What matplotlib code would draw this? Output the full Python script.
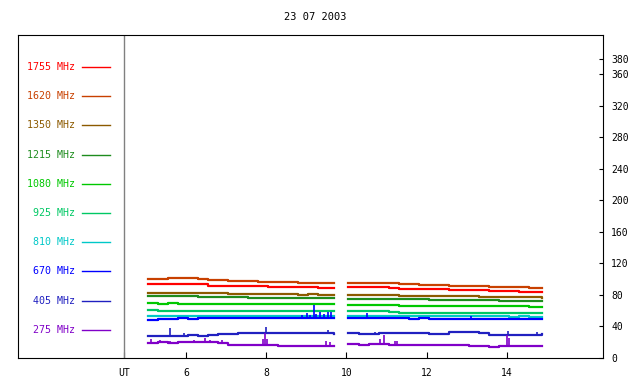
import numpy as np
import matplotlib
matplotlib.use('Agg')
import matplotlib.pyplot as plt
from matplotlib.lines import Line2D

plt.rcParams['font.family'] = 'DejaVu Sans Mono'

title = '23 07 2003'
x_ticks = [4.455, 6, 8, 10, 12, 14]
x_labels = ['UT', '6', '8', '10', '12', '14']
y_ticks = [0, 40, 80, 120, 160, 200, 240, 280, 320, 360, 380]

freqs = ['1755 MHz', '1620 MHz', '1350 MHz', '1215 MHz', '1080 MHz',
         '925 MHz', '810 MHz', '670 MHz', '405 MHz', '275 MHz']
colors = ['#ff0000', '#c84000', '#8c5a00', '#1e8c1e', '#00c800',
          '#00c864', '#00c8c8', '#0000ff', '#2020c0', '#8000c8']

# time (UT hours), two observing blocks
t_left = [5.05, 5.3, 5.55, 5.8, 6.05, 6.3, 6.55, 6.8, 7.05, 7.3,
          7.55, 7.8, 8.05, 8.3, 8.55, 8.8, 9.05, 9.3, 9.55, 9.7]
t_right = [10.05, 10.3, 10.55, 10.8, 11.05, 11.3, 11.55, 11.8, 12.05, 12.3,
           12.55, 12.8, 13.05, 13.3, 13.55, 13.8, 14.05, 14.3, 14.55, 14.88]

f1755_l = [93.5, 93.8, 94.2, 94.4, 94.2, 93.8, 92.0, 91.4, 91.5, 91.3,
           91.2, 90.8, 90.3, 90.2, 90.0, 89.8, 89.6, 89.4, 89.3, 89.3]
f1755_r = [90.4, 90.2, 90.3, 90.0, 88.4, 88.0, 87.8, 87.6, 87.4, 87.2,
           86.9, 86.5, 86.1, 85.8, 85.4, 85.0, 84.7, 84.4, 84.0, 83.8]
f1620_l = [100.3, 100.8, 101.2, 101.6, 101.4, 100.2, 98.8, 98.5, 97.9, 97.6,
           97.2, 96.9, 96.6, 96.2, 95.9, 95.4, 95.2, 95.0, 95.4, 95.4]
f1620_r = [95.3, 95.7, 95.8, 95.6, 94.6, 93.8, 93.5, 93.2, 92.8, 92.4,
           92.0, 91.6, 91.2, 90.9, 90.6, 90.2, 89.8, 89.5, 89.1, 88.9]
f1350_l = [82.6, 82.4, 82.8, 82.5, 82.7, 82.4, 82.2, 81.9, 81.8, 81.6,
           81.3, 81.0, 80.9, 80.8, 80.9, 80.6, 80.7, 80.5, 80.6, 80.6]
f1350_r = [80.0, 79.7, 79.6, 79.7, 79.4, 79.3, 79.1, 79.0, 78.9, 78.7,
           78.6, 78.4, 78.2, 78.0, 77.7, 77.5, 77.2, 77.0, 76.8, 76.6]
f1215_l = [78.8, 78.6, 78.7, 78.4, 78.3, 78.0, 77.6, 77.3, 77.0, 76.8,
           76.7, 76.6, 76.7, 76.5, 76.4, 76.5, 76.3, 76.4, 76.2, 76.2]
f1215_r = [75.4, 75.2, 75.3, 75.0, 74.8, 74.6, 74.5, 74.3, 74.1, 74.0,
           73.9, 73.7, 73.5, 73.3, 73.1, 72.9, 72.7, 72.5, 72.2, 72.0]
f1080_l = [69.4, 69.0, 69.2, 69.0, 68.8, 69.1, 68.9, 68.7, 68.6, 68.8,
           68.5, 68.6, 68.4, 68.6, 68.3, 68.4, 68.2, 68.3, 68.1, 68.1]
f1080_r = [67.8, 67.6, 67.8, 67.6, 66.7, 66.5, 66.4, 66.5, 66.3, 66.4,
           66.2, 66.1, 66.0, 65.9, 65.8, 65.7, 65.6, 65.4, 65.3, 65.2]
f925_l = [60.4, 60.1, 60.2, 60.0, 60.1, 59.9, 60.0, 59.8, 59.7, 59.8,
          59.6, 59.7, 59.5, 59.6, 59.4, 59.5, 59.3, 59.4, 59.3, 59.3]
f925_r = [59.9, 60.0, 59.8, 59.9, 58.0, 57.6, 57.5, 57.6, 57.4, 57.5,
          57.4, 57.3, 57.4, 57.2, 57.3, 57.1, 57.2, 57.0, 57.1, 57.0]
f810_l = [53.6, 53.8, 53.7, 53.6, 53.7, 53.5, 53.6, 53.4, 53.5, 53.4,
          53.5, 53.3, 53.4, 53.3, 53.4, 53.2, 53.3, 53.4, 53.3, 53.3]
f810_r = [53.4, 53.3, 53.4, 53.2, 53.3, 53.1, 53.2, 53.0, 53.1, 53.0,
          52.9, 53.0, 52.8, 52.9, 52.7, 52.8, 52.6, 52.7, 52.5, 52.5]
f670_l = [48.6, 49.6, 50.0, 50.2, 50.1, 50.3, 50.2, 50.4, 50.5, 50.6,
          50.7, 50.8, 50.9, 51.0, 51.0, 50.8, 51.2, 51.0, 51.3, 51.3]
f670_r = [50.2, 50.3, 50.4, 50.3, 50.2, 50.3, 50.1, 50.2, 50.0, 50.1,
          49.9, 50.0, 49.8, 49.9, 49.6, 49.8, 49.7, 49.6, 49.5, 49.5]
f405_l = [27.8, 28.2, 28.5, 28.4, 28.6, 28.5, 29.6, 30.4, 30.8, 31.2,
          31.3, 31.5, 31.7, 31.8, 31.6, 31.7, 31.8, 31.6, 31.2, 30.6]
f405_r = [31.3, 30.2, 30.1, 31.5, 32.0, 32.1, 32.0, 31.9, 30.4, 30.3,
          32.4, 32.7, 32.6, 31.5, 29.8, 29.6, 29.7, 29.5, 29.8, 30.0]
f275_l = [19.6, 19.8, 19.4, 19.9, 19.7, 20.2, 20.0, 19.5, 16.8, 16.2,
          16.0, 16.4, 16.0, 15.8, 15.7, 15.6, 15.8, 15.6, 15.7, 15.8]
f275_r = [17.2, 17.0, 17.3, 17.2, 16.9, 16.8, 16.6, 16.5, 16.4, 16.3,
          16.3, 16.0, 15.4, 14.8, 14.4, 14.6, 15.2, 15.1, 15.3, 15.2]

# short bursts: time, peak value
spk670_t = [8.9, 9.02, 9.1, 9.19, 9.25, 9.35, 9.45, 9.55, 9.62, 10.52, 13.1]
spk670_v = [54.0, 57.0, 55.0, 67.0, 56.0, 58.0, 56.0, 58.0, 59.0, 57.5, 53.0]
spk405_t = [5.6, 5.95, 8.0, 9.55, 10.7, 14.02, 14.76]
spk405_v = [37.7, 31.5, 39.0, 35.5, 32.8, 34.0, 33.5]
spk275_t = [5.12, 5.35, 5.6, 6.2, 6.47, 6.6, 6.9, 7.92, 7.97, 8.02, 9.5, 9.58,
            10.1, 10.25, 10.83, 10.93, 11.2, 11.25, 14.0, 14.05]
spk275_v = [23.7, 22.5, 22.0, 23.0, 25.0, 23.0, 22.5, 24.0, 31.3, 24.0, 22.0, 20.5,
            19.0, 19.5, 23.7, 29.2, 21.5, 21.0, 29.2, 25.0]

series = [(f1755_l, f1755_r), (f1620_l, f1620_r), (f1350_l, f1350_r),
          (f1215_l, f1215_r), (f1080_l, f1080_r), (f925_l, f925_r),
          (f810_l, f810_r), (f670_l, f670_r), (f405_l, f405_r), (f275_l, f275_r)]
spikes = {7: (spk670_t, spk670_v), 8: (spk405_t, spk405_v), 9: (spk275_t, spk275_v)}

fig = plt.figure(figsize=(6.4, 3.84), dpi=100)
ax = fig.add_axes([18/640, 26/384, 585/640, 323/384])

for i, (sl, sr) in enumerate(series):
    c = colors[i]
    ax.plot(t_left, sl, color=c, lw=1.6, drawstyle='steps-post')
    ax.plot(t_right, sr, color=c, lw=1.6, drawstyle='steps-post')
    if i in spikes:
        st, sv = spikes[i]
        tt = np.array(t_left + t_right)
        vv = np.array(sl + sr)
        base = vv[np.searchsorted(tt, st, side='right') - 1]
        ax.vlines(st, base, sv, color=c, lw=1.2)

ax.axvline(x_ticks[0], color='#808080', lw=1)

ax.set_xlim(1.813, 16.393)
ax.set_ylim(0, 410)
ax.set_xticks(x_ticks)
ax.set_xticklabels(x_labels)
ax.yaxis.tick_right()
ax.set_yticks(y_ticks)
ax.tick_params(axis='x', direction='in', length=4, width=0.8, labelsize=7, pad=7)
ax.tick_params(axis='y', direction='in', length=3, width=0.8, labelsize=7, pad=6)
for s in ax.spines.values():
    s.set_linewidth(0.8)

fig.text(315/640, 1 - 17/384, title, ha='center', va='center', fontsize=7.5)

# legend on the left
for i, (lab, c) in enumerate(zip(freqs, colors)):
    y = 1 - (67 + i * 29.2) / 384
    fig.text(75/640, y, lab, ha='right', va='center', color=c, fontsize=7.2)
    fig.add_artist(Line2D([82/640, 110/640], [y, y], color=c, lw=1))

fig.savefig('out.png', dpi=100)
